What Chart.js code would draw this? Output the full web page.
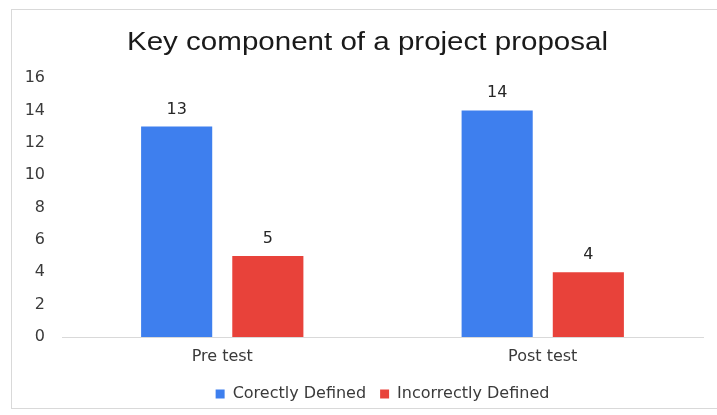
<!DOCTYPE html>
<html>
<head>
<meta charset="utf-8">
<script src="https://cdn.jsdelivr.net/npm/chart.js@4/dist/chart.umd.min.js"></script>
<style>
  html, body { margin: 0; padding: 0; background: #ffffff; }
  #wrap { position: relative; width: 717px; height: 415px; }
</style>
</head>
<body>
<div id="wrap"><canvas id="c" width="717" height="415"></canvas></div>
<script>
const categories = ['Pre test', 'Post test'];
const correctlyDefined = [13, 14];
const incorrectlyDefined = [5, 4];
const yTicks = [0, 2, 4, 6, 8, 10, 12, 14, 16];
const chartTitle = 'Key component of a project proposal';

const FONT = "'DejaVu Sans', sans-serif";
const TITLE_FONT = "'Liberation Sans', Arial, sans-serif";
const TEXT = '#3a3a3a';

// Light frame around the whole figure
const framePlugin = {
  id: 'frame',
  beforeDraw(chart) {
    const ctx = chart.ctx;
    ctx.save();
    ctx.strokeStyle = '#d9d9d9';
    ctx.lineWidth = 1;
    ctx.strokeRect(11.5, 9.5, 720, 399);
    ctx.restore();
  }
};

// Wide title drawn above the plot, stretched horizontally to its set width
const wideTitle = {
  id: 'wideTitle',
  afterDraw(chart, args, opts) {
    const ctx = chart.ctx;
    ctx.save();
    ctx.font = opts.size + 'px ' + TITLE_FONT;
    ctx.fillStyle = '#1a1a1a';
    ctx.textAlign = 'center';
    ctx.textBaseline = 'alphabetic';
    const w = ctx.measureText(opts.text).width;
    const sx = opts.width / w;
    ctx.translate(opts.cx, opts.baseline);
    ctx.scale(sx, 1);
    ctx.fillText(opts.text, 0, 0);
    ctx.restore();
  }
};

// Value labels above each bar
const valueLabels = {
  id: 'valueLabels',
  afterDatasetsDraw(chart) {
    const ctx = chart.ctx;
    ctx.save();
    ctx.font = '16px ' + FONT;
    ctx.fillStyle = '#262626';
    ctx.textAlign = 'center';
    ctx.textBaseline = 'alphabetic';
    chart.data.datasets.forEach((ds, i) => {
      chart.getDatasetMeta(i).data.forEach((bar, j) => {
        ctx.fillText(String(ds.data[j]), bar.x, bar.y - 13);
      });
    });
    ctx.restore();
  }
};

new Chart(document.getElementById('c'), {
  type: 'bar',
  data: {
    labels: categories,
    datasets: [
      { label: 'Corectly Defined', data: correctlyDefined, backgroundColor: '#3e7fee' },
      { label: 'Incorrectly Defined', data: incorrectlyDefined, backgroundColor: '#e8423a' }
    ]
  },
  options: {
    responsive: false,
    animation: false,
    devicePixelRatio: 1,
    layout: { padding: { left: 11, right: 14, top: 78, bottom: 3 } },
    datasets: { bar: { categoryPercentage: 0.569, barPercentage: 0.78 } },
    plugins: {
      title: { display: false },
      wideTitle: { text: chartTitle, size: 25, width: 481, cx: 367.5, baseline: 50 },
      legend: {
        position: 'bottom',
        fullSize: false,
        labels: {
          color: TEXT,
          font: { family: FONT, size: 16 },
          boxWidth: 9,
          boxHeight: 9,
          padding: 14
        }
      },
      tooltip: { enabled: false }
    },
    scales: {
      x: {
        afterFit(scale) { scale.height = 35; },
        grid: { display: false },
        border: { display: true, color: '#d9d9d9', width: 1 },
        ticks: { color: TEXT, font: { family: FONT, size: 16 }, padding: 2 }
      },
      y: {
        min: 0,
        max: 16,
        afterBuildTicks(scale) { scale.ticks = yTicks.map(v => ({ value: v })); },
        afterFit(scale) { scale.width = 51; },
        grid: { display: false },
        border: { display: false },
        ticks: { color: TEXT, font: { family: FONT, size: 16 }, padding: 9 }
      }
    }
  },
  plugins: [framePlugin, wideTitle, valueLabels]
});
</script>
</body>
</html>
